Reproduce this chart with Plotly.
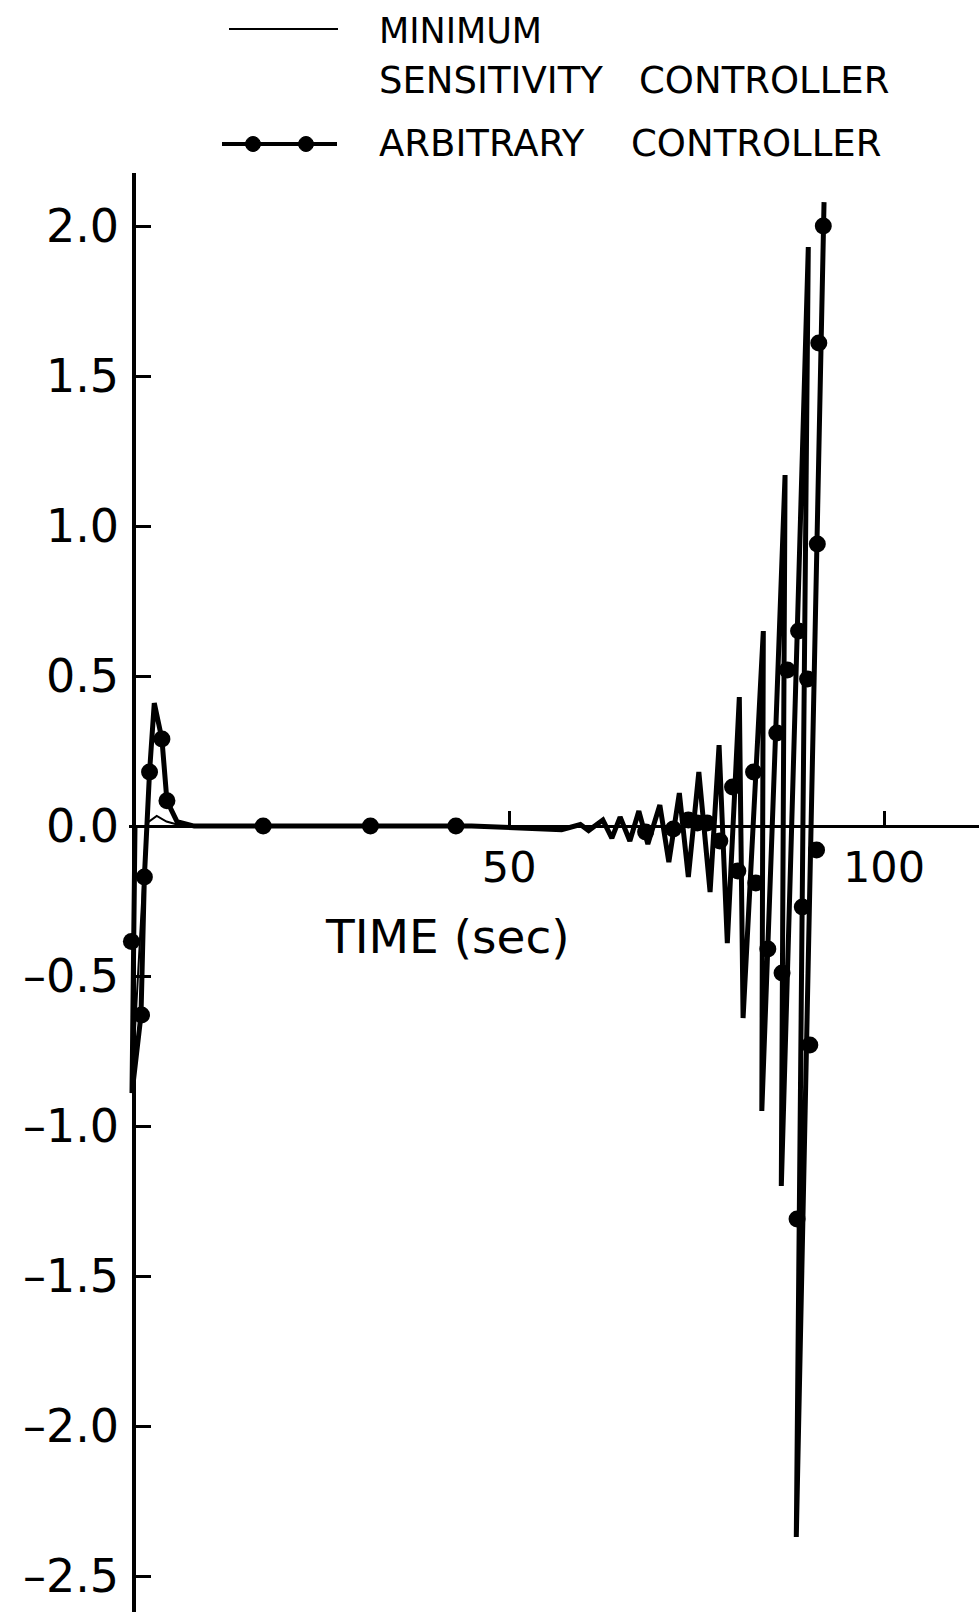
import plotly.graph_objects as go

# ---------------- data (image coordinates) ----------------
# Arbitrary controller response (thick line), in drawing order
arb_t = [0.1, -0.3, 0.9, 1.35, 2.04, 2.67, 3.69, 4.36, 5.7, 8.0, 45.0, 52.0, 57.0,
         59.5, 60.6, 62.5, 63.7, 64.8, 66.1, 67.3, 68.5, 70.1, 71.3, 72.7, 73.9,
         75.3, 76.8, 78.0, 79.1, 80.7, 81.2, 83.9, 83.7, 86.8, 86.3, 89.9, 88.3, 92.0]
arb_v = [0.0, -0.89, -0.63, -0.17, 0.18, 0.41, 0.29, 0.084, 0.015, 0.0, 0.0, -0.008, -0.012,
         0.005, -0.015, 0.02, -0.04, 0.03, -0.05, 0.05, -0.06, 0.07, -0.12, 0.11, -0.17,
         0.18, -0.22, 0.27, -0.39, 0.43, -0.64, 0.65, -0.95, 1.17, -1.20, 1.93, -2.37, 2.08]

# Plotter dots on the arbitrary-controller curve
arb_dot_t = [-0.38, 0.97, 1.35, 2.04, 3.69, 4.36, 17.2, 31.5, 42.9, 68.2, 71.9, 73.9,
             75.1, 76.4, 78.1, 79.8, 80.5, 82.6, 82.9, 84.5, 85.7, 86.4, 87.1, 88.4,
             88.6, 89.1, 89.8, 90.1, 91.0, 91.1, 91.3, 91.9]
arb_dot_v = [-0.385, -0.63, -0.17, 0.18, 0.29, 0.084, 0.0, 0.0, 0.0, -0.02, -0.01, 0.02,
             0.01, 0.01, -0.05, 0.13, -0.15, 0.18, -0.19, -0.41, 0.31, -0.49, 0.52, -1.31,
             0.65, -0.27, 0.49, -0.73, -0.08, 0.94, 1.61, 2.0]

# Minimum sensitivity controller response (thin line)
min_t = [0.0, -0.3, 1.6, 1.9, 3.0, 4.3, 5.7, 8.0, 112.0]
min_v = [0.0, -0.86, 0.0, 0.014, 0.034, 0.015, 0.005, 0.0, 0.0]

ytick_vals = [2.0, 1.5, 1.0, 0.5, 0.0, -0.5, -1.0, -1.5, -2.0, -2.5]
ytick_text = ["2.0", "1.5", "1.0", "0.5", "0.0", "\u20130.5", "\u20131.0", "\u20131.5", "\u20132.0", "\u20132.5"]
xtick_vals = [50, 100]
xtick_text = ["50", "100"]

legend_labels = ["MINIMUM", "SENSITIVITY", "CONTROLLER", "ARBITRARY", "CONTROLLER"]
x_title = "TIME (sec)"

# ---------------- layout geometry ----------------
W, H = 979, 1612
XMIN, XMAX = -0.7, 112.667
ML = int(round(134 + XMIN * 7.5))
MT = 173
YMIN, YMAX = -2.62, 2.177
PW, PH = W - ML, H - MT

def px_x(px):
    return (px - ML) / PW

def px_y(py):
    return (H - py) / PH

FONT = "DejaVu Sans"

fig = go.Figure()
fig.add_trace(go.Scatter(x=min_t, y=min_v, mode="lines",
                         line=dict(color="black", width=2), showlegend=False,
                         hoverinfo="skip"))
fig.add_trace(go.Scatter(x=arb_t, y=arb_v, mode="lines",
                         line=dict(color="black", width=5), showlegend=False,
                         hoverinfo="skip"))
fig.add_trace(go.Scatter(x=arb_dot_t, y=arb_dot_v, mode="markers",
                         marker=dict(color="black", size=17), showlegend=False,
                         cliponaxis=False, hoverinfo="skip"))

x_axis_pos = (0 - YMIN) / (YMAX - YMIN)
y_axis_pos = (0 - XMIN) / (XMAX - XMIN)

fig.update_layout(
    width=W, height=H,
    margin=dict(l=ML, r=0, t=MT, b=0, autoexpand=False),
    paper_bgcolor="white", plot_bgcolor="white",
    showlegend=False,
    font=dict(family=FONT, color="black"),
    xaxis=dict(range=[XMIN, XMAX], anchor="free", position=x_axis_pos,
               showline=True, linewidth=3, linecolor="black",
               ticks="inside", ticklen=14, tickwidth=3, tickcolor="black",
               tickvals=xtick_vals, ticktext=xtick_text,
               tickfont=dict(size=43, family=FONT, color="black"),
               ticklabelstandoff=2,
               showgrid=False, zeroline=False, automargin=False),
    yaxis=dict(range=[YMIN, YMAX], anchor="free", position=y_axis_pos,
               showline=True, linewidth=4, linecolor="black",
               ticks="inside", ticklen=15, tickwidth=3, tickcolor="black",
               tickvals=ytick_vals, ticktext=ytick_text,
               tickfont=dict(size=46, family=FONT, color="black"),
               ticklabelstandoff=4,
               showgrid=False, zeroline=False, automargin=False),
)

# x-axis title
fig.add_annotation(x=(447 - 134) / 7.5, y=(826 - 936) / 300.0, xref="x", yref="y",
                   text=x_title, showarrow=False,
                   font=dict(size=47, family=FONT, color="black"))

# ---------------- hand-drawn style legend ----------------
shapes = []
shapes.append(dict(type="line", xref="paper", yref="paper",
                   x0=px_x(229), x1=px_x(338), y0=px_y(29), y1=px_y(29),
                   line=dict(color="black", width=2)))
shapes.append(dict(type="line", xref="paper", yref="paper",
                   x0=px_x(222), x1=px_x(337), y0=px_y(144), y1=px_y(144),
                   line=dict(color="black", width=4)))
for cx in (253, 306):
    shapes.append(dict(type="circle", xref="paper", yref="paper",
                       x0=px_x(cx - 7.5), x1=px_x(cx + 7.5),
                       y0=px_y(144 + 7.5), y1=px_y(144 - 7.5),
                       fillcolor="black", line=dict(color="black", width=1)))
fig.update_layout(shapes=shapes)

legend_pos = [(377, 31), (377, 81), (637, 81), (377, 144), (629, 144)]
legend_sizes = [35, 37, 37, 37, 37]
for lab, (lx, ly), fs in zip(legend_labels, legend_pos, legend_sizes):
    fig.add_annotation(x=px_x(lx), y=px_y(ly), xref="paper", yref="paper",
                       xanchor="left", yanchor="middle", text=lab, showarrow=False,
                       font=dict(size=fs, family=FONT, color="black"))

fig.write_html("out.html", config={"displayModeBar": False},
               post_script="document.body.style.margin='0';document.documentElement.style.margin='0';")
